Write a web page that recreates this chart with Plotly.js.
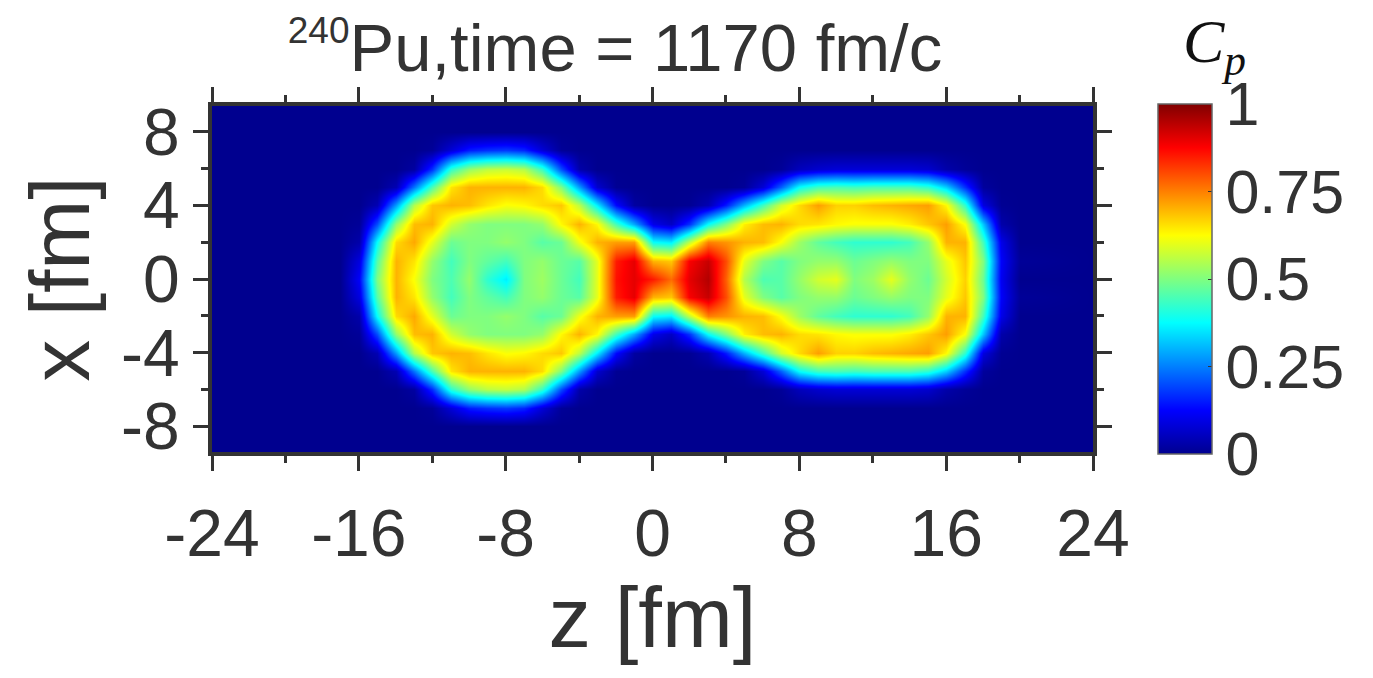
<!DOCTYPE html>
<html><head><meta charset="utf-8">
<script src="https://cdn.plot.ly/plotly-3.0.1.min.js"></script>
<style>html,body{margin:0;padding:0;background:#fff}#c{width:1373px;height:678px}</style>
</head><body><div id="c"></div>
<script>
const zFm=[-17,-16,-15,-14,-13,-12,-11,-10,-9,-8,-7,-6,-5,-4,-3,-2,-1,0,1,2,3,4,5,6,7,8,9,10,11,12,13,14,15,16,17,18,19,20];
const xFm=[-10,-9,-8,-7,-6,-5,-4,-3,-2,-1,0,1,2,3,4,5,6,7,8,9,10];
const rowEmpty=[0,0,0,0,0,0,0,0,0,0,0,0,0,0,0,0,0,0,0,0,0,0,0,0,0,0,0,0,0,0,0,0,0,0,0,0,0,0];
const rowP7=[0,0,0,0,0,.01,.08,.15,.17,.18,.16,.08,.01,0,0,0,0,0,0,0,0,0,0,0,0,0,0,0,0,0,0,0,0,0,0,0,0,0];
const rowP6=[0,0,0,0,.02,.17,.42,.52,.56,.57,.55,.43,.2,.03,0,0,0,0,0,0,0,0,0,0,.01,.05,.07,.08,.08,.08,.08,.08,.07,.03,.01,0,0,0];
const rowP5=[0,0,0,.04,.24,.45,.65,.7,.7,.7,.7,.66,.5,.28,.07,.005,0,0,0,0,0,0,.01,.08,.22,.38,.44,.45,.44,.45,.45,.45,.42,.33,.17,.015,0,0];
const rowP4=[0,0,.04,.28,.55,.68,.7,.69,.65,.62,.63,.66,.68,.56,.36,.13,.02,0,0,.005,.04,.15,.3,.44,.58,.66,.72,.67,.67,.69,.7,.71,.72,.63,.42,.09,.005,0];
const rowP3=[0,.01,.2,.52,.69,.7,.58,.52,.5,.5,.5,.52,.63,.7,.63,.44,.29,.1,.06,.17,.38,.5,.64,.69,.7,.66,.65,.63,.62,.62,.62,.64,.68,.72,.62,.32,.03,0];
const rowP2=[0,.03,.38,.66,.71,.6,.48,.5,.5,.52,.5,.46,.48,.61,.7,.72,.72,.38,.36,.56,.75,.73,.7,.69,.62,.53,.47,.44,.42,.42,.42,.44,.52,.7,.7,.44,.1,0];
const rowP1=[0,.09,.46,.7,.65,.52,.44,.5,.47,.44,.5,.52,.48,.46,.6,.85,.9,.7,.68,.88,.93,.8,.6,.5,.46,.5,.52,.52,.48,.5,.52,.5,.5,.6,.68,.5,.12,.01];
const row0=[0,.12,.5,.7,.62,.5,.45,.52,.42,.36,.5,.53,.48,.44,.6,.86,.9,.85,.77,.9,.95,.78,.55,.45,.46,.52,.58,.6,.5,.53,.6,.52,.48,.58,.67,.48,.11,0];
const rowM1=[0,.09,.46,.7,.65,.52,.44,.5,.47,.44,.5,.52,.48,.46,.6,.85,.9,.7,.68,.88,.93,.8,.6,.5,.46,.5,.52,.52,.48,.5,.52,.5,.5,.6,.68,.5,.12,.01];
const rowM2=[0,.03,.38,.66,.71,.6,.48,.5,.5,.52,.5,.46,.48,.61,.7,.72,.72,.38,.36,.56,.75,.73,.7,.69,.62,.53,.47,.44,.42,.42,.42,.44,.52,.7,.7,.44,.1,0];
const rowM3=[0,.01,.2,.52,.69,.7,.58,.52,.5,.5,.5,.52,.63,.7,.63,.44,.29,.1,.06,.17,.38,.5,.64,.69,.7,.66,.65,.63,.62,.62,.62,.64,.68,.72,.62,.32,.03,0];
const rowM4=[0,0,.04,.28,.55,.68,.7,.69,.65,.62,.63,.66,.68,.56,.36,.13,.02,0,0,.005,.04,.15,.3,.44,.58,.66,.72,.67,.67,.69,.7,.71,.72,.63,.42,.09,.005,0];
const rowM5=[0,0,0,.04,.24,.45,.65,.7,.7,.7,.7,.66,.5,.28,.07,.005,0,0,0,0,0,0,.01,.08,.22,.38,.44,.45,.44,.45,.45,.45,.42,.33,.17,.015,0,0];
const rowM6=[0,0,0,0,.02,.17,.42,.52,.56,.57,.55,.43,.2,.03,0,0,0,0,0,0,0,0,0,0,.01,.05,.07,.08,.08,.08,.08,.08,.07,.03,.01,0,0,0];
const rowM7=[0,0,0,0,0,.01,.08,.15,.17,.18,.16,.08,.01,0,0,0,0,0,0,0,0,0,0,0,0,0,0,0,0,0,0,0,0,0,0,0,0,0];
const rows=[rowEmpty,rowEmpty,rowEmpty,rowM7,rowM6,rowM5,rowM4,rowM3,rowM2,rowM1,row0,rowP1,rowP2,rowP3,rowP4,rowP5,rowP6,rowP7,rowEmpty,rowEmpty,rowEmpty];
const xTickVals=[-24,-16,-8,0,8,16,24];
const xTickText=['-24','-16','-8','0','8','16','24'];
const xMinorVals=[-20,-12,-4,4,12,20];
const yTickVals=[-8,-4,0,4,8];
const yTickText=['-8','-4','0','4','8'];
const yMinorVals=[-6,-2,2,6];
const cbTickVals=[0,.25,.5,.75,1];
const cbTickText=['0','0.25','0.5','0.75','1'];
const jet=[[0,'#00008f'],[.125,'#0000ff'],[.375,'#00ffff'],[.625,'#ffff00'],[.875,'#ff0000'],[1,'#800000']];

const ink='#333333', fam='"Liberation Sans",Arial,sans-serif';
const L=212,R=1093,T=106,B=452;
const axisBase={showgrid:false,zeroline:false,showline:true,linecolor:ink,linewidth:4,mirror:'ticks',ticks:'outside',tickcolor:ink,tickwidth:3,ticklen:15,tickmode:'array',tickfont:{family:fam,size:66,color:ink}};
const trace={type:'heatmap',x:[-24].concat(zFm,[24]),y:xFm,z:rows.map(r=>[0].concat(r,[0])),zmin:0,zmax:1,zsmooth:'best',colorscale:jet,
  colorbar:{thickness:54,thicknessmode:'pixels',len:350/(B-T),lenmode:'fraction',x:(1158-L)/(R-L),xanchor:'left',y:-2/(B-T),yanchor:'bottom',xpad:0,ypad:0,
    outlinecolor:'#666666',outlinewidth:1.5,ticks:'inside',ticklen:4,tickwidth:1,tickcolor:ink,tickmode:'array',tickvals:cbTickVals,ticktext:cbTickText,tickfont:{family:fam,size:61,color:ink}}};
const layout={width:1373,height:678,margin:{l:L,r:1373-R,t:T,b:678-B,pad:0},paper_bgcolor:'#fff',plot_bgcolor:'#00008f',showlegend:false,
  title:{text:'<sup><span style="font-size:37px">240</span></sup>Pu,time = 1170 fm/c',font:{family:fam,size:67,color:ink},x:615/1373,xanchor:'center',y:1-48/678,yanchor:'middle'},
  xaxis:Object.assign({},axisBase,{automargin:'height',range:[-24,24],tickvals:xTickVals,ticktext:xTickText,ticklabelstandoff:6,minor:{tickmode:'array',tickvals:xMinorVals,ticks:'outside',ticklen:7,tickwidth:3,tickcolor:ink},
    title:{text:'z [fm]',font:{family:fam,size:85,color:ink},standoff:6}}),
  yaxis:Object.assign({},axisBase,{range:[-9.4,9.4],tickvals:yTickVals,ticktext:yTickText,minor:{tickmode:'array',tickvals:yMinorVals,ticks:'outside',ticklen:7,tickwidth:3,tickcolor:ink},
    title:{text:'x [fm]',font:{family:fam,size:84,color:ink},standoff:5}}),
  annotations:[{xref:'paper',yref:'paper',x:(1214-L)/(R-L),y:1+(T-46)/(B-T),xanchor:'center',yanchor:'middle',showarrow:false,
    text:'<i>C</i><sub><i>p</i></sub>',font:{family:'"Liberation Serif",serif',size:62,color:'#111'}}]};
Plotly.newPlot('c',[trace],layout,{displayModeBar:false,staticPlot:true});
</script></body></html>
